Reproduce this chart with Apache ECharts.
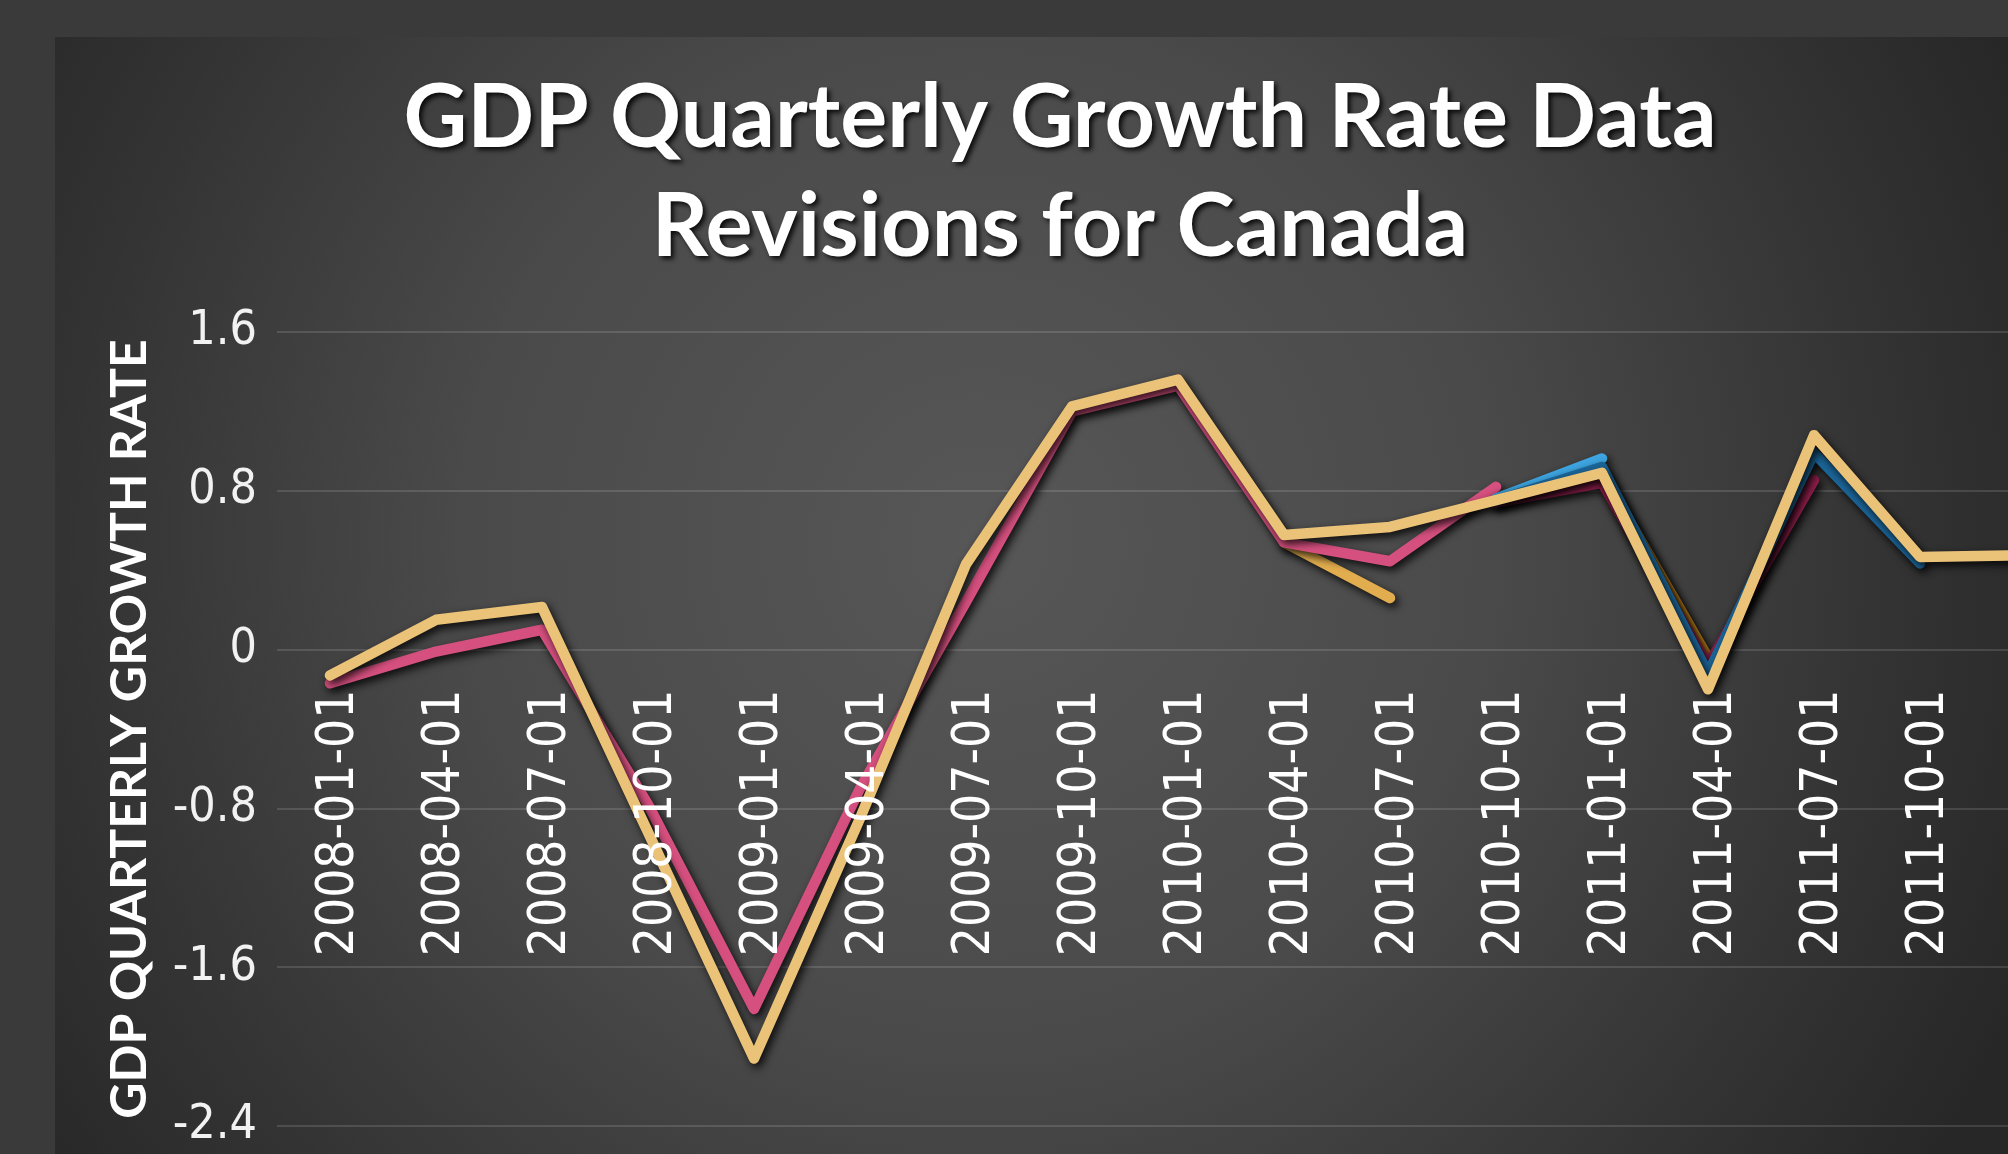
<!DOCTYPE html>
<html>
<head>
<meta charset="utf-8">
<script src="https://cdn.jsdelivr.net/npm/echarts@6/dist/echarts.min.js"></script>
<style>
  html, body { margin: 0; padding: 0; background: #3a3a3a; }
  #chart { width: 2008px; height: 1154px; }
</style>
</head>
<body>
<div id="chart"></div>
<script>
// ---- Data ----
const categories = [
  '2008-01-01', '2008-04-01', '2008-07-01', '2008-10-01',
  '2009-01-01', '2009-04-01', '2009-07-01', '2009-10-01',
  '2010-01-01', '2010-04-01', '2010-07-01', '2010-10-01',
  '2011-01-01', '2011-04-01', '2011-07-01', '2011-10-01',
  '2012-01-01'
];
const yTicks = { min: -2.4, max: 1.6, interval: 0.8 };

const vintageOrange   = [null, null, null, null, null, null, null, null, null, 0.54, 0.26, null, null, null, null, null, null];
const vintagePink     = [-0.17, -0.01, 0.10, -0.78, -1.81, -0.70, 0.24, 1.20, 1.33, 0.54, 0.445, 0.82, null, null, null, null, null];
const vintageLightBlue= [null, null, null, null, null, null, null, null, null, null, null, 0.76, 0.963, null, null, null, null];
const vintageAmber    = [null, null, null, null, null, null, null, null, null, null, null, null, 0.89, -0.04, null, null, null];
const vintageCrimson  = [null, null, null, null, null, null, null, null, null, null, null, 0.74, 0.84, -0.08, 0.854, null, null];
const vintageDarkBlue = [null, null, null, null, null, null, null, null, null, null, null, 0.75, 0.92, -0.12, 0.99, 0.434, null];
const vintageGold     = [-0.13, 0.15, 0.215, -0.92, -2.06, -0.85, 0.43, 1.225, 1.36, 0.577, 0.618, 0.753, 0.89, -0.20, 1.08, 0.467, 0.475];

const seriesDefs = [
  { name: 'Vintage A', data: vintageOrange,    color: '#e2ad4e' },
  { name: 'Vintage B', data: vintagePink,      color: '#d6507f' },
  { name: 'Vintage C', data: vintageLightBlue, color: '#3ea5e0' },
  { name: 'Vintage D', data: vintageAmber,     color: '#c8861c' },
  { name: 'Vintage E', data: vintageCrimson,   color: '#8e1f4b' },
  { name: 'Vintage F', data: vintageDarkBlue,  color: '#1b6598' },
  { name: 'Vintage G', data: vintageGold,      color: '#ebc378' }
];

const gridBox = { left: 277, top: 332, width: 1802, height: 794 };
// place the category axis on the value-axis zero line (offset from the bottom edge)
const zeroOffset = -gridBox.height * (0 - yTicks.min) / (yTicks.max - yTicks.min);

const chart = echarts.init(document.getElementById('chart'), null, { renderer: 'canvas' });

const option = {
  backgroundColor: '#3a3a3a',
  animation: false,
  graphic: [
    {
      type: 'rect',
      z: -100,
      silent: true,
      shape: { x: 55, y: 37, width: 2010, height: 1200 },
      style: {
        fill: {
          type: 'radial', x: 0.46, y: 0.42, r: 0.95,
          colorStops: [
            { offset: 0, color: '#575757' },
            { offset: 0.45, color: '#4a4a4a' },
            { offset: 0.8, color: '#333333' },
            { offset: 1, color: '#272727' }
          ]
        }
      }
    },
    {
      type: 'text', x: 1060, y: 119, z: 100,
      style: {
        text: 'GDP Quarterly Growth Rate Data',
        fill: '#ffffff',
        font: 'bold 88px Lato, "Open Sans", sans-serif',
        align: 'center', verticalAlign: 'middle',
        textShadowColor: 'rgba(0,0,0,0.85)', textShadowBlur: 5,
        textShadowOffsetX: 3, textShadowOffsetY: 3
      }
    },
    {
      type: 'text', x: 1060, y: 228, z: 100,
      style: {
        text: 'Revisions for Canada',
        fill: '#ffffff',
        font: 'bold 88px Lato, "Open Sans", sans-serif',
        align: 'center', verticalAlign: 'middle',
        textShadowColor: 'rgba(0,0,0,0.85)', textShadowBlur: 5,
        textShadowOffsetX: 3, textShadowOffsetY: 3
      }
    }
  ],
  grid: {
    left: gridBox.left, top: gridBox.top, width: gridBox.width, height: gridBox.height,
    containLabel: false,
    outerBoundsMode: 'none'
  },
  xAxis: {
    type: 'category',
    data: categories,
    boundaryGap: true,
    position: 'bottom',
    offset: zeroOffset,
    z: 10,
    axisLine: { show: false, onZero: false },
    axisTick: { show: false },
    splitLine: { show: false },
    axisLabel: {
      rotate: 90,
      margin: 40,
      interval: 0,
      verticalAlign: 'top',
      lineHeight: 20,
      color: '#ffffff',
      fontSize: 51,
      fontFamily: '"DejaVu Sans Condensed", "DejaVu Sans", sans-serif',
      // the last quarter's label falls outside the picture in the reference
      formatter: function (value, index) {
        return index === categories.length - 1 ? '' : value;
      }
    }
  },
  yAxis: {
    type: 'value',
    min: yTicks.min,
    max: yTicks.max,
    interval: yTicks.interval,
    name: 'GDP QUARTERLY GROWTH RATE',
    nameLocation: 'middle',
    nameGap: 122,
    nameRotate: 90,
    nameTextStyle: {
      color: '#ffffff',
      fontSize: 50,
      fontWeight: 'bold',
      fontFamily: 'Lato, "Open Sans", sans-serif'
    },
    axisLine: { show: false },
    axisTick: { show: false },
    splitLine: { show: true, lineStyle: { color: 'rgba(255,255,255,0.13)', width: 2 } },
    axisLabel: {
      margin: 20,
      color: '#f2f2f2',
      fontSize: 48,
      fontFamily: '"DejaVu Sans Condensed", "DejaVu Sans", sans-serif'
    }
  },
  series: seriesDefs.map(function (s) {
    return {
      name: s.name,
      type: 'line',
      data: s.data,
      symbol: 'none',
      showSymbol: false,
      connectNulls: false,
      lineStyle: {
        color: s.color,
        width: 10.5,
        cap: 'round',
        join: 'round',
        shadowColor: 'rgba(0,0,0,0.85)',
        shadowBlur: 8,
        shadowOffsetX: 3,
        shadowOffsetY: 4
      },
      itemStyle: { color: s.color },
      emphasis: { disabled: true }
    };
  })
};

chart.setOption(option);
</script>
</body>
</html>
